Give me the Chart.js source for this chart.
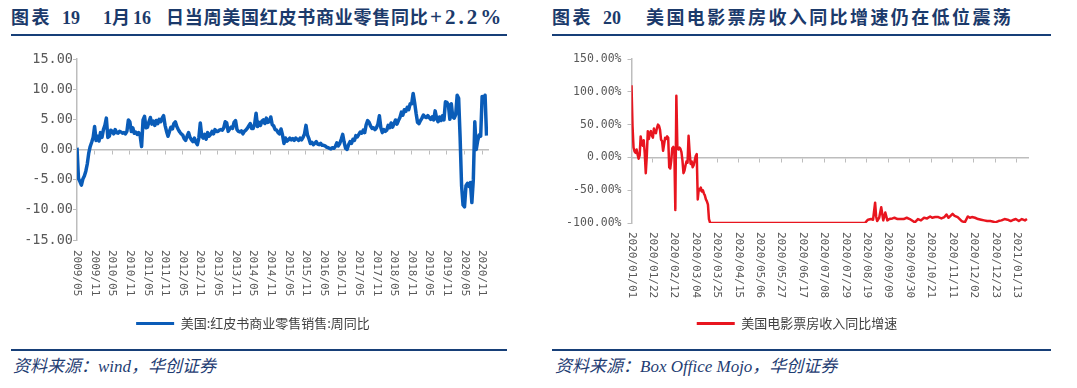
<!DOCTYPE html>
<html>
<head>
<meta charset="utf-8">
<script src="https://cdn.jsdelivr.net/npm/chart.js@4.4.0/dist/chart.umd.min.js"></script>
<style>
html, body { margin: 0; padding: 0; background: #fff; }
body { width: 1077px; height: 388px; position: relative; overflow: hidden; }
.title { position: absolute; top: 8px; font-family: "Liberation Serif", "Noto Sans CJK SC", serif; font-weight: 700; font-size: 18px; line-height: 20px; color: #1b3a6b; white-space: nowrap; }
.rule { position: absolute; height: 2px; background: #173f78; }
.source { position: absolute; top: 357px; font-family: "Liberation Serif", "Noto Sans CJK SC", serif; font-style: italic; font-size: 17px; line-height: 20px; color: #1f3d73; white-space: nowrap; }
canvas { position: absolute; top: 45px; }
</style>
</head>
<body>
<div class="title" style="left:11px;letter-spacing:2.5px">图表</div>
<div class="title" style="left:62px">19</div>
<div class="title" style="left:103px">1</div>
<div class="title" style="left:112px">月</div>
<div class="title" style="left:133px">16</div>
<div class="title" style="left:166px;letter-spacing:0.75px">日当周美国红皮书商业零售同比</div>
<div class="title" style="left:430px;top:7px;font-size:21px;letter-spacing:3px">+2.2%</div>
<div class="rule" style="left:11px;width:496px;top:34px"></div>

<div class="title" style="left:552px;letter-spacing:2.5px">图表</div>
<div class="title" style="left:603px">20</div>
<div class="title" style="left:646px;letter-spacing:2.4px">美国电影票房收入同比增速仍在低位震荡</div>
<div class="rule" style="left:552px;width:499px;top:34px"></div>

<canvas id="book" width="540" height="295" style="left:0"></canvas>
<canvas id="film" width="537" height="295" style="left:540px"></canvas>

<div class="rule" style="left:11px;width:496px;top:349px"></div>
<div class="rule" style="left:552px;width:499px;top:349px"></div>
<div class="source" style="left:13px">资料来源：wind，华创证券</div>
<div class="source" style="left:555px">资料来源：Box Office Mojo，华创证券</div>

<script>
// 红皮书周同比, half-month samples from 2009/05 (one row = six months)
const bookStep = 0.5;
const bookValues = [
  0.3, -4.8, -5.3, -5.9, -4.9, -4.4, -3.6, -2.4, -0.6, 0.5, 1.2, 2.0,
  3.8, 1.5, 2.2, 1.4, 2.8, 2.0, 3.3, 4.0, 5.2, 2.0, 2.2, 3.2,
  3.0, 2.6, 3.3, 2.8, 2.7, 3.0, 2.9, 2.7, 2.8, 2.6, 3.0, 4.9,
  4.6, 3.0, 3.6, 2.7, 2.9, 2.5, 2.8, 2.3, 0.5, 4.9, 5.5, 3.6,
  3.7, 4.6, 5.3, 4.2, 4.7, 4.0, 4.8, 4.3, 5.0, 4.6, 5.2, 5.6,
  4.0, 3.0, 2.2, 3.0, 3.7, 3.4, 4.3, 4.6, 3.8, 3.3, 2.9, 2.6,
  2.4, 1.8, 1.5, 2.2, 2.8, 2.0, 1.6, 1.3, 1.9, 1.2, 0.8, 1.9,
  4.4, 2.2, 1.9, 2.5, 1.7, 2.8, 2.2, 2.5, 3.0, 2.6, 3.3, 3.0,
  3.0, 3.2, 3.3, 3.2, 3.6, 4.6, 4.4, 3.0, 3.4, 3.7, 3.5, 4.5,
  4.8, 3.3, 3.0, 2.9, 3.1, 2.6, 3.0, 3.2, 3.5, 3.9, 4.3, 3.5,
  3.5, 4.2, 6.0, 3.8, 4.5, 4.0, 4.7, 4.9, 4.3, 5.2, 4.5, 4.6,
  5.4, 4.1, 3.9, 3.3, 3.2, 2.8, 2.6, 3.4, 2.4, 1.0, 1.9, 1.4,
  1.6, 1.9, 1.6, 1.8, 1.5, 1.9, 1.7, 1.5, 1.9, 1.6, 2.0, 2.6,
  4.0, 2.4, 1.8, 1.0, 1.2, 0.8, 1.0, 1.3, 0.9, 0.8, 1.0, 0.7,
  0.7, 0.6, 0.4, 0.3, 0.2, 0.1, 0.3, 0.2, 0.5, 1.1, 0.6, 1.0,
  1.7, 2.5, 1.2, 0.2, 0.0, 0.8, 1.3, 1.0, 1.7, 1.5, 2.3, 2.1,
  2.5, 2.9, 2.7, 3.2, 2.8, 4.1, 4.8, 4.5, 3.9, 3.5, 3.6, 3.3,
  3.6, 4.2, 5.6, 3.6, 2.8, 3.3, 3.0, 3.2, 4.0, 3.6, 4.4, 3.7,
  4.3, 4.9, 4.2, 4.8, 5.3, 6.2, 5.7, 6.6, 6.3, 7.0, 6.6, 7.6,
  7.6, 9.3, 7.8, 6.0, 4.5, 4.3, 4.8, 5.2, 5.7, 5.4, 5.3, 5.6,
  5.3, 5.0, 5.4, 4.9, 6.4, 5.2, 4.6, 5.4, 4.8, 5.6, 4.9, 7.9,
  7.8, 7.4, 5.0, 7.6, 5.4, 5.2, 5.8, 9.0, 8.5, 2.0, -6.0, -9.2,
  -9.5, -6.0, -5.6, -6.1, -5.5, -8.8, -5.0, 4.6, 0.0, 1.5, 2.4, 2.2,
  8.8, 8.0, 9.0, 2.3
];
const bookTickLabels = [
  '2009/05', '2009/11', '2010/05', '2010/11', '2011/05', '2011/11', '2012/05', '2012/11',
  '2013/05', '2013/11', '2014/05', '2014/11', '2015/05', '2015/11', '2016/05', '2016/11',
  '2017/05', '2017/11', '2018/05', '2018/11', '2019/05', '2019/11', '2020/05', '2020/11'
];

// 票房同比, days counted from 2020/01/01
const filmDays = [
  0, 1, 2, 3, 4, 5, 6, 7, 8, 9, 10, 11, 12, 13, 14, 15, 16, 17, 18, 19,
  20, 21, 22, 23, 24, 25, 26, 27, 28, 29, 30, 31, 32, 33, 34, 35, 36, 37, 38, 39,
  40, 41, 42, 43, 44, 45, 46, 47, 48, 49, 50, 51, 52, 53, 54, 55, 56, 57, 58, 59,
  60, 61, 62, 63, 64, 65, 66, 67, 68, 69, 70, 71, 72, 73, 74, 75, 76, 77, 78,
  120, 170, 229, 232, 235, 237, 239, 240, 241, 243, 245, 247, 249, 251, 253, 256, 258,
  261, 264, 267, 270, 273, 276, 278, 281, 284, 287, 290, 293, 295, 298, 301, 304, 307,
  309, 311, 313, 315, 317, 320, 322, 324, 327, 330, 332, 334, 337, 340, 343, 346, 349,
  352, 355, 357, 360, 363, 366, 369, 372, 375, 377, 380, 383, 386, 388
];
const filmGrowth = [
  110, 48, 15, 9, 7, 12, 4, -2, 3, 32, 22, 18, 26, 6, -24, 2, 40, 28, 37, 40,
  33, 30, 44, 38, 37, 45, 50, 48, 42, 27, 25, 10, 20, 30, 28, 32, 30, -15, -17, -5,
  14, 16, 12, -80, 94, 15, 12, 15, 13, 8, -5, -24, -20, -12, -6, -8, 33, 8, -10, -6,
  -15, -12, -5, 2, 5, -64, -48, -50, -46, -52, -50, -55, -58, -64, -67, -72, -94, -99, -100,
  -100, -100, -100, -95, -94, -95, -69, -90, -97, -92, -76, -96, -84, -96, -94, -93, -92,
  -94, -94, -94, -92, -94, -97, -99, -94, -96, -92, -93, -90, -92, -91, -91, -93, -91,
  -87, -92, -89, -86, -89, -91, -94, -97, -99, -90, -92, -91, -92, -94, -95, -96, -97,
  -97, -98, -99, -97, -96, -94, -95, -97, -95, -94, -97, -94, -96, -94
];
const filmTickLabels = [
  '2020/01/01', '2020/01/22', '2020/02/12', '2020/03/04', '2020/03/25', '2020/04/15',
  '2020/05/06', '2020/05/27', '2020/06/17', '2020/07/08', '2020/07/29', '2020/08/19',
  '2020/09/09', '2020/09/30', '2020/10/21', '2020/11/11', '2020/12/02', '2020/12/23',
  '2021/01/13'
];

const AXIS = '#bdbdbd';
const LABEL = '#595959';

// band under the plot that writes the x tick labels turned clockwise
function labelBand(height, gap, font) {
  return {
    id: 'labelBand',
    beforeInit(chart) {
      const band = {
        position: 'bottom', weight: 500, fullSize: false, options: {},
        width: 0, height: height, top: 0, bottom: 0, left: 0, right: 0,
        isHorizontal() { return true; },
        update(maxWidth) { this.width = maxWidth; this.height = height; },
        draw() {
          const scale = chart.scales.x;
          const ctx = chart.ctx;
          ctx.save();
          ctx.font = font;
          ctx.fillStyle = LABEL;
          ctx.textAlign = 'left';
          ctx.textBaseline = 'middle';
          scale.ticks.forEach(t => {
            ctx.save();
            ctx.translate(scale.getPixelForValue(t.value), this.top + gap);
            ctx.rotate(Math.PI / 2);
            ctx.fillText(t.label, 0, 0);
            ctx.restore();
          });
          ctx.restore();
        }
      };
      Chart.layouts.addBox(chart, band);
    }
  };
}

const legendNoBorder = chart =>
  Chart.defaults.plugins.legend.labels.generateLabels(chart).map(l => ({ ...l, lineWidth: 0 }));

function makeChart(id, cfg) {
  return new Chart(document.getElementById(id), {
    type: 'line',
    data: {
      datasets: [{
        label: cfg.label,
        data: cfg.points,
        borderColor: cfg.color,
        backgroundColor: cfg.color,
        borderWidth: cfg.width,
        pointRadius: 0,
        tension: 0,
        borderJoinStyle: 'round'
      }]
    },
    options: {
      responsive: false,
      animation: false,
      devicePixelRatio: 1,
      layout: { padding: cfg.padding },
      plugins: {
        tooltip: { enabled: false },
        legend: {
          position: 'bottom',
          labels: {
            boxWidth: 38, boxHeight: 3, padding: 10, color: '#404040',
            font: { family: '"Noto Sans CJK SC"', size: 13 },
            generateLabels: legendNoBorder
          }
        }
      },
      scales: {
        x: {
          type: 'linear',
          position: { y: 0 },
          min: cfg.xMin, max: cfg.xMax,
          border: { color: AXIS, width: 1.5 },
          grid: { drawOnChartArea: false, tickLength: 4, color: AXIS, lineWidth: 1 },
          ticks: {
            display: false, stepSize: cfg.xStep, includeBounds: false, autoSkip: false,
            callback: v => cfg.xLabels[Math.round((v - cfg.xMin) / cfg.xStep)] ?? ''
          }
        },
        y: {
          type: 'linear',
          position: 'left',
          min: cfg.yMin, max: cfg.yMax,
          afterFit: s => { s.width = cfg.yWidth; },
          border: { color: AXIS, width: 1.5 },
          grid: { drawOnChartArea: false, tickLength: 4, color: AXIS, lineWidth: 1 },
          ticks: {
            stepSize: cfg.yStep, padding: cfg.yPad, color: LABEL,
            font: { family: '"DejaVu Sans Mono"', size: cfg.yFont },
            callback: cfg.yFormat
          }
        }
      }
    },
    plugins: [labelBand(cfg.band, cfg.gap, '11px "DejaVu Sans Mono"')]
  });
}

makeChart('book', {
  label: '美国:红皮书商业零售销售:周同比',
  points: bookValues.map((v, i) => ({ x: i * bookStep, y: v })),
  color: '#0a5cb8', width: 3.5,
  padding: { left: 18, right: 52, top: 14, bottom: 0 },
  xMin: 0, xMax: 140, xStep: 6, xLabels: bookTickLabels,
  yMin: -15, yMax: 15, yStep: 5, yWidth: 59, yPad: 0, yFont: 13.5,
  yFormat: v => v.toFixed(2),
  band: 67, gap: 10
});

makeChart('film', {
  label: '美国电影票房收入同比增速',
  points: filmDays.map((d, i) => ({ x: d, y: filmGrowth[i] })),
  color: '#e8151f', width: 2.5,
  padding: { left: 26, right: 49, top: 14, bottom: 0 },
  xMin: 0, xMax: 389, xStep: 21, xLabels: filmTickLabels,
  yMin: -100, yMax: 150, yStep: 50, yWidth: 65.5, yPad: 6, yFont: 11.5,
  yFormat: v => v.toFixed(2) + '%',
  band: 84, gap: 9
});
</script>
</body>
</html>
